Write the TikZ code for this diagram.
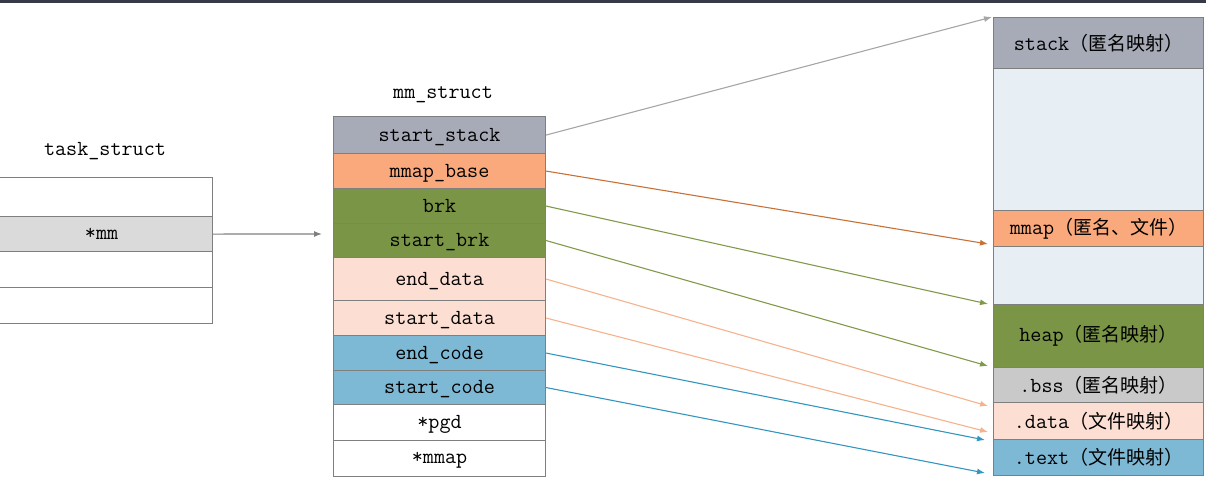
\documentclass[tikz,border=0pt]{standalone}
\usepackage{fontspec}
\newfontfamily\cjk{Noto Sans CJK SC}
\usetikzlibrary{arrows.meta}
\usetikzlibrary{calc}
\usepackage{xcolor}

\definecolor{cStack}{HTML}{A7ABB8}
\definecolor{cMmap}{HTML}{F9A97C}
\definecolor{cHeap}{HTML}{7A9545}
\definecolor{cData}{HTML}{FCDFD2}
\definecolor{cCode}{HTML}{7DB8D5}
\definecolor{cBss}{HTML}{C9C9C9}
\definecolor{cFree}{HTML}{E7EEF4}
\definecolor{cMm}{HTML}{DADADA}
\definecolor{cLine}{HTML}{7F7F7F}

\newcommand{\zh}[1]{{\cjk\fontsize{19}{22}\selectfont #1}}

\begin{document}
\begin{tikzpicture}[x=1pt,y=-1pt,
    font=\ttfamily\fontsize{21.5}{24}\selectfont,
    field/.style={draw=cLine, line width=1.1pt, anchor=north west, inner sep=0pt,
      minimum width=212pt, text depth=1pt},
    seg/.style={draw=cLine, line width=1.1pt, anchor=north west, inner sep=0pt,
      minimum width=210pt},
    link/.style={line width=1.1pt, -{Latex[length=8pt,width=6pt]}}]
  \useasboundingbox (0,0) rectangle (1206,482);
  \clip (0,0) rectangle (1206,482);
  \fill[fill={rgb,255:red,54;green,58;blue,70}] (0,0) rectangle (1206,3);

  % task_struct
  \node (tasklbl) at (105,151) {task\_struct};
  \node[field, minimum height=39pt, minimum width=222pt] (t1) at (-10,177) {};
  \node[field, minimum height=35pt, minimum width=222pt, fill=cMm] (tmm) at (-10,216) {};
  \node (mmtxt) at (tmm.center) {*mm};
  \node[field, minimum height=36pt, minimum width=222pt] (t3) at (-10,251) {};
  \node[field, minimum height=36pt, minimum width=222pt] (t4) at (-10,287) {};

  % mm_struct
  \node (mmlbl) at (443,95) {mm\_struct};
  \foreach \name/\y/\h/\col/\txt in {
      sstack/116/37/cStack/start\_stack,
      mbase/153/35/cMmap/mmap\_base,
      brk/188/35/cHeap/brk,
      sbrk/223/34/cHeap/start\_brk,
      edata/257/43/cData/end\_data,
      sdata/300/35/cData/start\_data,
      ecode/335/35/cCode/end\_code,
      scode/370/34/cCode/start\_code,
      pgd/404/36/white/*pgd,
      mmap/440/36/white/*mmap}
  {
    \node[field, fill=\col, minimum height=\h pt] (\name) at (333,\y) {\txt};
  }

  % address space
  \node[seg, fill=cStack, minimum height=51pt] (stack) at (993,17) {stack\zh{（匿名映射）}};
  \node[seg, fill=cFree, minimum height=142pt] (free1) at (993,68) {};
  \node[seg, fill=cMmap, minimum height=36pt] (mmapseg) at (993,210) {mmap\zh{（匿名、文件）}};
  \node[seg, fill=cFree, minimum height=58pt] (free2) at (993,246) {};
  \node[seg, fill=cHeap, minimum height=63pt] (heap) at (993,304) {heap\zh{（匿名映射）}};
  \node[seg, fill=cBss, minimum height=35pt] (bss) at (993,367) {.bss\zh{（匿名映射）}};
  \node[seg, fill=cData, minimum height=37pt] (dataseg) at (993,402) {.data\zh{（文件映射）}};
  \node[seg, fill=cCode, minimum height=36pt] (textseg) at (993,439) {.text\zh{（文件映射）}};

  % arrow ends
  \coordinate (pmm) at (322,234);
  \coordinate (pstack) at (992,17);
  \coordinate (pmbase) at (988,244);
  \coordinate (pbrk) at (988,304);
  \coordinate (psbrk) at (988,366);
  \coordinate (pedata) at (988,406);
  \coordinate (psdata) at (988,432);
  \coordinate (pecode) at (985,440);
  \coordinate (pscode) at (985,473);

  % arrows
  \draw[link, cLine] (tmm.east) -- (pmm);
  \draw[link, color={rgb,255:red,166;green,166;blue,166}] (sstack.east) -- (pstack);
  \draw[link, color={rgb,255:red,200;green,113;blue,55}] (mbase.east) -- (pmbase);
  \draw[link, color={rgb,255:red,128;green,154;blue,74}] (brk.east) -- (pbrk);
  \draw[link, color={rgb,255:red,128;green,154;blue,74}] (sbrk.east) -- (psbrk);
  \draw[link, color={rgb,255:red,246;green,178;blue,140}] (edata.east) -- (pedata);
  \draw[link, color={rgb,255:red,246;green,178;blue,140}] (sdata.east) -- (psdata);
  \draw[link, color={rgb,255:red,52;green,150;blue,190}] (ecode.east) -- (pecode);
  \draw[link, color={rgb,255:red,52;green,150;blue,190}] (scode.east) -- (pscode);
\end{tikzpicture}
\end{document}
